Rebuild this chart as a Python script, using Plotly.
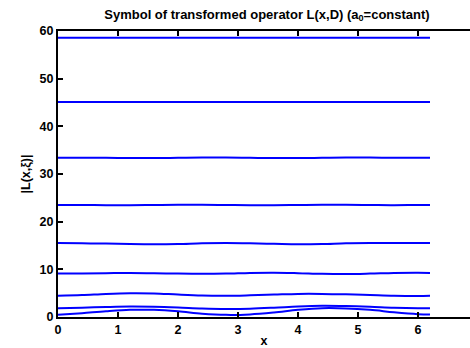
import plotly.graph_objects as go

x_vals = [0, 0.4, 0.8, 1.2, 1.6, 2.0, 2.4, 2.8, 3.2, 3.6, 4.0, 4.4, 4.8, 5.2, 5.6, 6.0, 6.2]

L1 = [0.45, 0.8, 1.2, 1.5, 1.5, 1.2, 0.7, 0.45, 0.55, 0.95, 1.5, 1.85, 1.8, 1.5, 1.0, 0.6, 0.5]
L2 = [1.85, 1.95, 2.1, 2.2, 2.15, 2.0, 1.8, 1.7, 1.75, 1.95, 2.2, 2.35, 2.3, 2.15, 1.95, 1.85, 1.85]
L3 = [4.45, 4.6, 4.85, 5.0, 4.95, 4.7, 4.5, 4.45, 4.55, 4.7, 4.85, 4.85, 4.75, 4.6, 4.45, 4.4, 4.45]
L4 = [9.1, 9.15, 9.2, 9.25, 9.2, 9.1, 9.05, 9.1, 9.25, 9.3, 9.2, 9.05, 9.0, 9.1, 9.25, 9.3, 9.25]
L5 = [15.5, 15.45, 15.4, 15.3, 15.25, 15.3, 15.45, 15.5, 15.45, 15.35, 15.25, 15.3, 15.45, 15.5, 15.5, 15.5, 15.5]
L6 = [23.5, 23.5, 23.45, 23.45, 23.5, 23.55, 23.55, 23.5, 23.45, 23.45, 23.5, 23.55, 23.55, 23.5, 23.45, 23.5, 23.5]
L7 = [33.4, 33.4, 33.4, 33.35, 33.35, 33.4, 33.45, 33.45, 33.4, 33.35, 33.35, 33.4, 33.45, 33.45, 33.4, 33.4, 33.4]
L8 = [45.1, 45.1, 45.1, 45.1, 45.1, 45.1, 45.1, 45.1, 45.1, 45.1, 45.1, 45.1, 45.1, 45.1, 45.1, 45.1, 45.1]
L9 = [58.6, 58.6, 58.6, 58.6, 58.6, 58.6, 58.6, 58.6, 58.6, 58.6, 58.6, 58.6, 58.6, 58.6, 58.6, 58.6, 58.6]

series = [L1, L2, L3, L4, L5, L6, L7, L8, L9]

x_ticks = [0, 1, 2, 3, 4, 5, 6]
y_ticks = [0, 10, 20, 30, 40, 50, 60]

fig = go.Figure()
for s in series:
    fig.add_trace(go.Scatter(x=x_vals, y=s, mode="lines", line=dict(color="#0000ff", width=2, shape="spline"),
                             showlegend=False, hoverinfo="skip"))

font_b = dict(family="Liberation Sans, Arial, sans-serif", size=12.5, color="black", weight="bold")
font_t = dict(family="Liberation Sans, Arial, sans-serif", size=13, color="black", weight="bold")

fig.update_layout(
    width=470, height=348,
    margin=dict(l=58, r=0, t=31, b=29),
    paper_bgcolor="white", plot_bgcolor="white",
    title=dict(text="Symbol of transformed operator L(x,D) (a<sub>0</sub>=constant)",
               font=font_t, x=267/470, xanchor="center", y=1 - 14/348, yanchor="middle"),
)
fig.update_xaxes(range=[0, (470 - 58) / 60], tickvals=x_ticks, ticks="inside", ticklen=5, tickwidth=2,
                 tickcolor="black", showline=True, linecolor="black", linewidth=2, mirror="ticks",
                 showgrid=False, zeroline=False, tickfont=font_b,
                 title=dict(text="x", font=font_b, standoff=2))
fig.update_yaxes(range=[0, 60], tickvals=y_ticks, ticks="inside", ticklen=5, tickwidth=2,
                 tickcolor="black", showline=True, linecolor="black", linewidth=2, mirror=False,
                 showgrid=False, zeroline=False, tickfont=font_b,
                 title=dict(text="|L(x,ξ)|", font=font_b, standoff=6))

fig.write_html("out.html")
